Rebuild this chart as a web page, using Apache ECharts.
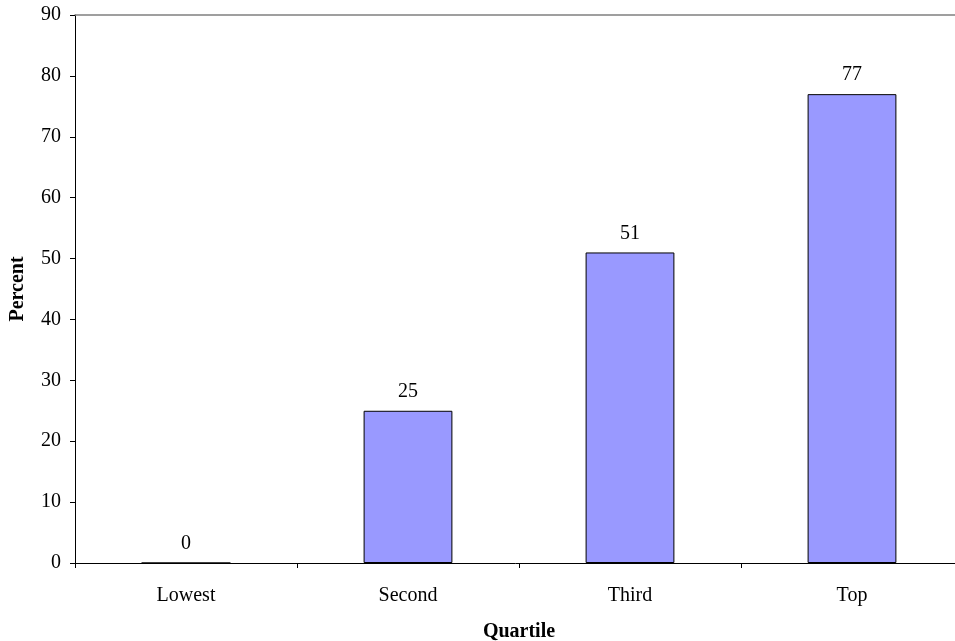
<!DOCTYPE html>
<html>
<head>
<meta charset="utf-8">
<script src="https://cdn.jsdelivr.net/npm/echarts@6/dist/echarts.min.js"></script>
<style>html,body{margin:0;padding:0;background:#fff}#c{width:955px;height:641px}</style>
</head>
<body>
<div id="c"></div>
<script>
const categories = ['Lowest', 'Second', 'Third', 'Top'];
const percentValues = [0, 25, 51, 77];
const yTicks = { min: 0, max: 90, interval: 10 };

const font = 'Liberation Serif';
const chart = echarts.init(document.getElementById('c'));
chart.setOption({
  animation: false,
  backgroundColor: '#fff',
  textStyle: { fontFamily: font },
  grid: { left: 75, right: -8, top: 15, bottom: 78, containLabel: false, outerBoundsMode: 'none' },
  xAxis: [{
    type: 'category',
    data: categories,
    position: 'bottom',
    name: 'Quartile',
    nameLocation: 'middle',
    nameGap: 59,
    nameTextStyle: { fontFamily: font, fontWeight: 'bold', fontSize: 20, color: '#000' },
    axisLine: { lineStyle: { color: '#000', width: 1 } },
    axisTick: { show: true, length: 5, inside: false, lineStyle: { color: '#000' } },
    axisLabel: { margin: 23, fontFamily: font, fontSize: 20, color: '#000' },
    splitLine: { show: false }
  }, {
    type: 'category',
    data: categories,
    position: 'top',
    axisLine: { show: true, lineStyle: { color: '#808080', width: 1.5 } },
    axisTick: { show: false },
    axisLabel: { show: false },
    splitLine: { show: false }
  }],
  yAxis: {
    type: 'value',
    min: yTicks.min, max: yTicks.max, interval: yTicks.interval,
    name: 'Percent',
    nameLocation: 'middle',
    nameRotate: 90,
    nameGap: 47,
    nameTextStyle: { fontFamily: font, fontWeight: 'bold', fontSize: 20, color: '#000' },
    axisLine: { show: true, lineStyle: { color: '#000', width: 1 } },
    axisTick: { show: true, length: 5, lineStyle: { color: '#000' } },
    axisLabel: { margin: 14, fontFamily: font, fontSize: 20, color: '#000' },
    splitLine: { show: false }
  },
  series: [{
    type: 'bar',
    data: percentValues,
    barWidth: '40%',
    itemStyle: { color: '#9999FF', borderColor: '#000', borderWidth: 1 },
    label: { show: true, position: 'top', distance: 9, fontFamily: font, fontSize: 20, color: '#000' }
  }]
});
</script>
</body>
</html>
